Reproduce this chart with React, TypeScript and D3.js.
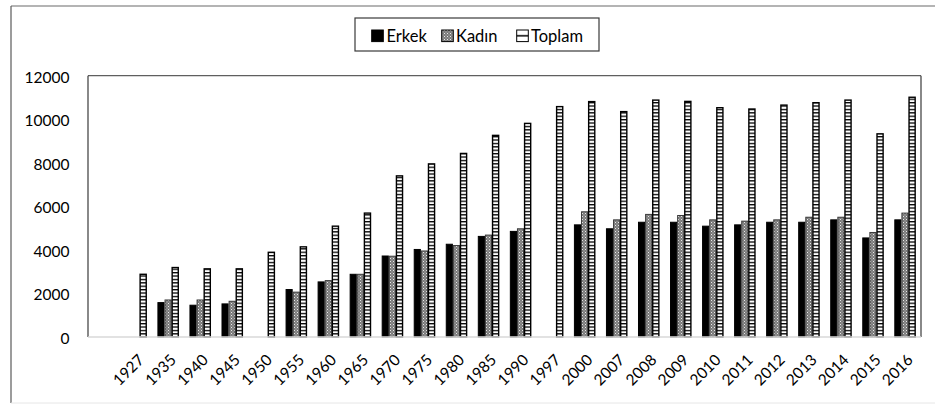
import React from "react";
import * as d3 from "d3";

const categories = ["", "1927", "1935", "1940", "1945", "1950", "1955", "1960", "1965", "1970", "1975", "1980", "1985", "1990", "1997", "2000", "2007", "2008", "2009", "2010", "2011", "2012", "2013", "2014", "2015", "2016"];
const erkek: (number | null)[] = [null, null, 1580, 1460, 1520, null, 2180, 2530, 2880, 3720, 4020, 4260, 4620, 4850, null, 5150, 4970, 5270, 5270, 5090, 5150, 5270, 5270, 5380, 4550, 5380];
const kadin: (number | null)[] = [null, null, 1700, 1700, 1640, null, 2060, 2590, 2880, 3710, 3950, 4200, 4680, 4970, null, 5750, 5380, 5630, 5580, 5380, 5320, 5380, 5500, 5500, 4800, 5690];
const toplam: (number | null)[] = [null, 2880, 3190, 3130, 3130, 3890, 4140, 5090, 5690, 7400, 7950, 8430, 9260, 9810, 10580, 10810, 10350, 10880, 10820, 10530, 10470, 10650, 10760, 10880, 9330, 11010];
const seriesNames = ["Erkek", "Kadın", "Toplam"];
const yTicks = [0, 2000, 4000, 6000, 8000, 10000, 12000];

const W = 935;
const H = 405;
const plot = { left: 88, right: 921, top: 75.7, bottom: 337 };
const FONT = "Lato, 'Open Sans', sans-serif";
const FS = 15.5;

export default function App() {
  const x0 = d3.scaleBand<string>().domain(categories).range([plot.left, plot.right]).padding(0);
  const bw = x0.bandwidth() / 4.5;
  const x1 = d3.scaleBand<string>().domain(seriesNames).range([0, bw * 3]).padding(0);
  const y = d3.scaleLinear().domain([0, 12000]).range([plot.bottom, plot.top]);
  const data = [erkek, kadin, toplam];
  const fills = ["#000", "url(#kadinPat)", "url(#toplamPat)"];
  const strokes = ["#000", "#3a3a3a", "#000"];

  const legendItems = [
    { name: "Erkek", sx: 371.7, tx: 386.5 },
    { name: "Kadın", sx: 441.7, tx: 456 },
    { name: "Toplam", sx: 516.7, tx: 531 },
  ];
  const legendFills = ["#000", "url(#kadinPat)", "url(#toplamLeg)"];

  return (
    <svg width={W} height={H} style={{ position: "absolute", left: 0, top: 0, background: "#fff" }} fontFamily={FONT}>
      <defs>
        <pattern id="kadinPat" patternUnits="userSpaceOnUse" width={3} height={3}>
          <rect width={3} height={3} fill="#7a7a7a" />
          <rect x={0} y={0} width={1} height={1} fill="#e8e8e8" />
          <rect x={1.5} y={1.5} width={1} height={1} fill="#bdbdbd" />
        </pattern>
        <pattern id="toplamPat" patternUnits="userSpaceOnUse" width={10} height={3.4}>
          <rect width={10} height={3.4} fill="#fff" />
          <rect width={10} height={1.3} fill="#000" />
        </pattern>
        <pattern id="toplamLeg" patternUnits="userSpaceOnUse" x={516.7} y={30} width={11.6} height={11.6}>
          <rect width={11.6} height={11.6} fill="#fff" />
          <rect y={5} width={11.6} height={1.5} fill="#000" />
        </pattern>
      </defs>

      {/* outer chart border */}
      <line x1={11} y1={6} x2={W} y2={6} stroke="#6b6b6b" strokeWidth={1.2} />
      <line x1={11} y1={6} x2={11} y2={403} stroke="#5a5a5a" strokeWidth={1.2} />
      <line x1={11} y1={403} x2={W} y2={403} stroke="#e6e6e6" strokeWidth={1} />

      {/* plot frame */}
      <line x1={plot.left} y1={plot.top} x2={plot.right} y2={plot.top} stroke="#5f5f5f" strokeWidth={1.3} />
      <line x1={plot.left} y1={plot.top} x2={plot.left} y2={plot.bottom} stroke="#3a3a3a" strokeWidth={1.2} />
      <line x1={plot.right} y1={plot.top} x2={plot.right} y2={plot.bottom} stroke="#3a3a3a" strokeWidth={1.2} />

      {/* bars */}
      {data.map((ser, si) =>
        ser.map((v, ci) => {
          if (v == null) return null;
          const cx = (x0(categories[ci]) as number) + (x0.bandwidth() - bw * 3) / 2 + (x1(seriesNames[si]) as number);
          return (
            <rect
              key={`${si}-${ci}`}
              x={cx + 0.5}
              y={y(v)}
              width={bw - 1}
              height={y(0) - y(v)}
              fill={fills[si]}
              stroke={strokes[si]}
              strokeWidth={si === 2 ? 1.4 : 1}
            />
          );
        })
      )}

      {/* x axis line */}
      <line x1={plot.left} y1={plot.bottom} x2={plot.right} y2={plot.bottom} stroke="#d9d9d9" strokeWidth={1.3} />

      {/* y tick labels */}
      {yTicks.map((t) => (
        <text key={t} x={69.5} y={y(t)} dy="0.44em" textAnchor="end" fontSize={FS} fill="#000">
          {t}
        </text>
      ))}

      {/* x labels */}
      {categories.map((c) => {
        if (!c) return null;
        const cx = (x0(c) as number) + x0.bandwidth() / 2;
        const px = cx + 9;
        const py = plot.bottom + 24;
        return (
          <text key={c} x={px} y={py} textAnchor="end" fontSize={FS} transform={`rotate(-45 ${px} ${py})`} fill="#000">
            {c}
          </text>
        );
      })}

      {/* legend */}
      <rect x={355} y={18} width={244} height={33} fill="#fff" stroke="#3a3a3a" strokeWidth={1.2} />
      {legendItems.map((it, i) => (
        <g key={it.name}>
          <rect x={it.sx} y={30} width={11.6} height={11.6} fill={legendFills[i]} stroke="#000" strokeWidth={1} />
          <text x={it.tx} y={42} fontSize={16.5} fill="#000">
            {it.name}
          </text>
        </g>
      ))}
    </svg>
  );
}
